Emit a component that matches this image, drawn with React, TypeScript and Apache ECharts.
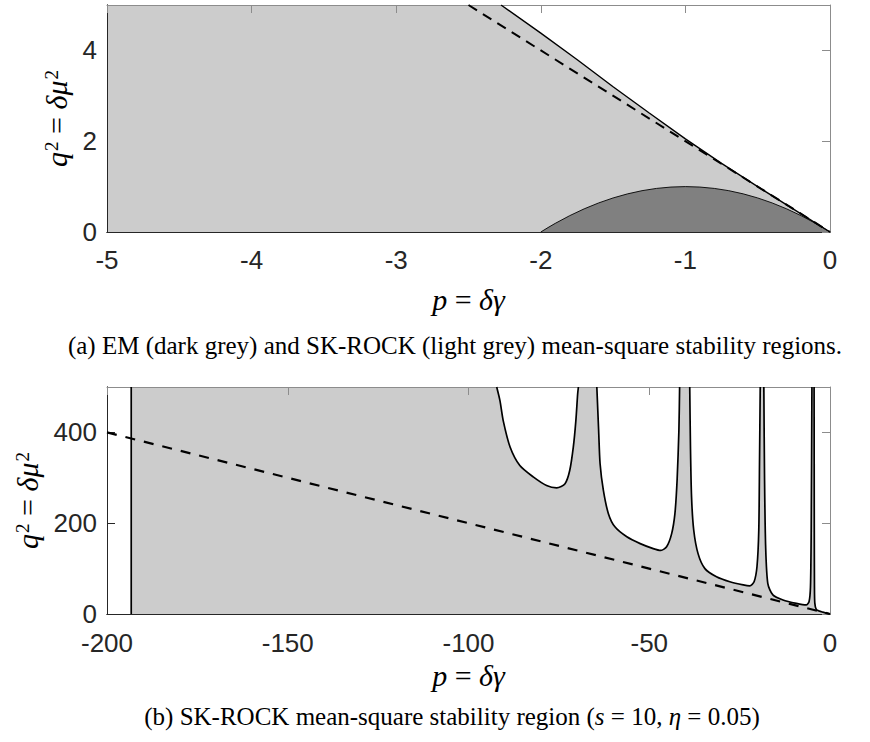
import React, { useEffect, useRef } from "react";
import * as echarts from "echarts";

// ---------- Top panel (a) ----------
const topXTicks = [-5, -4, -3, -2, -1, 0];
const topYTicks = [0, 2, 4];
const topYMax = 5;
// SK-ROCK boundary (solid)
const skP = [-2.275, -2, -1.75, -1.5, -1.25, -1, -0.75, -0.5, -0.25, 0];
const skQ = [5.0, 4.38, 3.8, 3.2, 2.62, 2.05, 1.51, 1.0, 0.5, 0];
// EM boundary (dark grey region)
const emP = [-2, -1.95, -1.9, -1.8, -1.7, -1.6, -1.5, -1.4, -1.3, -1.2, -1.1, -1, -0.9, -0.8, -0.7, -0.6, -0.5, -0.4, -0.3, -0.2, -0.1, -0.05, 0];
const emQ = [0, 0.0975, 0.19, 0.36, 0.51, 0.64, 0.75, 0.84, 0.91, 0.96, 0.99, 1, 0.99, 0.96, 0.91, 0.84, 0.75, 0.64, 0.51, 0.36, 0.19, 0.0975, 0];
// exact SDE boundary (dashed)
const dashTopP = [-2.5, 0];
const dashTopQ = [5, 0];

// ---------- Bottom panel (b) ----------
const botXTicks = [-200, -150, -100, -50, 0];
const botYTicks = [0, 200, 400];
const botYMax = 500;
const leftEdgeP = -193.3;
const f1P = [-92.2, -91.3, -90.4, -88.5, -85.8, -82.1, -78.4, -75.6, -73.3, -72.0, -71.0, -70.3, -69.8, -69.6];
const f1Q = [500, 470, 426, 368, 327, 302, 283, 278, 287, 316, 368, 426, 485, 500];
const f2P = [-64.5, -64.0, -63.6, -62.7, -61.3, -59.5, -56.2, -52.5, -48.9, -46.8, -45.2, -43.8, -42.9, -42.3, -41.8, -41.6];
const f2Q = [500, 404, 331, 273, 221, 192, 170, 155, 144, 140, 148, 177, 221, 294, 404, 500];
const f3P = [-38.8, -38.6, -38.3, -37.7, -36.5, -34.6, -31.4, -27.7, -24.0, -22.2, -21.0, -20.2, -19.7, -19.5, -19.3];
const f3Q = [500, 368, 258, 185, 133, 100, 82, 71, 64, 62, 71, 104, 185, 331, 500];
const f4P = [-18.3, -18.1, -17.8, -17.2, -15.8, -13.0, -9.3, -6.6, -5.8, -5.4, -5.2, -5.0];
const f4Q = [500, 294, 148, 67, 42, 31, 23.5, 20, 27, 60, 185, 500];
const f5P = [-4.4, -4.35, -4.3, -4.2, -3.8, -3, -2, -1, 0];
const f5Q = [500, 200, 60, 24, 10, 6.5, 4.1, 2.05, 0];
const dashBotP = [-200, 0];
const dashBotQ = [400, 0];

const zip = (p: number[], q: number[]) => p.map((v, i) => [v, q[i]]);

const TXT = "#262626";
const SERIF = "'Liberation Serif', 'DejaVu Serif', serif";
const SANS = "'Liberation Sans', Arial, sans-serif";

const nameRich = {
  it: { fontFamily: SERIF, fontStyle: "italic", fontSize: 30, color: "#000" },
  n: { fontFamily: SERIF, fontSize: 30, color: "#000" },
  sup: { fontFamily: SERIF, fontSize: 19, color: "#000", padding: [0, 0, 10, 1] },
};

function axesFor(
  gridIndex: number,
  xt: number[],
  yt: number[],
  yMax: number,
  xLabelMargin: number,
  xNameGap: number,
  yNameGap: number
) {
  const xMin = xt[0];
  const xMax = xt[xt.length - 1];
  const xInt = xt[1] - xt[0];
  const yMin = yt[0];
  const yInt = yt[1] - yt[0];
  const xAxes = [
    {
      type: "value",
      gridIndex,
      min: xMin,
      max: xMax,
      interval: xInt,
      position: "bottom",
      z: 0,
      axisLine: { show: true, onZero: false, lineStyle: { color: TXT, width: 1 } },
      axisTick: { show: true, inside: true, length: 8, lineStyle: { color: TXT } },
      axisLabel: { fontSize: 26, lineHeight: 20, fontFamily: SANS, color: TXT, margin: xLabelMargin },
      splitLine: { show: false },
      name: "{it|p}{n| = }{it|δγ}",
      nameLocation: "middle",
      nameGap: xNameGap,
      nameTextStyle: { rich: nameRich },
    },
    {
      type: "value",
      gridIndex,
      min: xMin,
      max: xMax,
      interval: xInt,
      position: "top",
      z: 3,
      axisLine: { show: true, onZero: false, lineStyle: { color: "#8c8c8c", width: 1 } },
      axisTick: { show: true, inside: true, length: 8, lineStyle: { color: "#8c8c8c" } },
      axisLabel: { show: false },
      splitLine: { show: false },
    },
    {
      type: "value",
      gridIndex,
      min: xMin,
      max: xMax,
      interval: xInt,
      position: "bottom",
      z: 3,
      axisLine: { show: true, onZero: false, lineStyle: { color: TXT, width: 1 } },
      axisTick: { show: false },
      axisLabel: { show: false },
      splitLine: { show: false },
    },
  ];
  const yAxes = [
    {
      type: "value",
      gridIndex,
      min: yMin,
      max: yMax,
      interval: yInt,
      position: "left",
      z: 0,
      axisLine: { show: true, onZero: false, lineStyle: { color: TXT, width: 1 } },
      axisTick: { show: true, inside: true, length: 8, lineStyle: { color: TXT } },
      axisLabel: { fontSize: 26, lineHeight: 20, fontFamily: SANS, color: TXT, margin: 10, showMaxLabel: false },
      splitLine: { show: false },
      name: "{it|q}{sup|2}{n| = }{it|δμ}{sup|2}",
      nameLocation: "middle",
      nameRotate: 90,
      nameGap: yNameGap,
      nameTextStyle: { rich: nameRich },
    },
    {
      type: "value",
      gridIndex,
      min: yMin,
      max: yMax,
      interval: yInt,
      position: "right",
      z: 3,
      axisLine: { show: true, onZero: false, lineStyle: { color: "#8c8c8c", width: 1 } },
      axisTick: { show: true, inside: true, length: 8, lineStyle: { color: "#8c8c8c" } },
      axisLabel: { show: false },
      splitLine: { show: false },
    },
    {
      type: "value",
      gridIndex,
      min: yMin,
      max: yMax,
      interval: yInt,
      position: "left",
      z: 3,
      axisLine: { show: true, onZero: false, lineStyle: { color: TXT, width: 1 } },
      axisTick: { show: false },
      axisLabel: { show: false },
      splitLine: { show: false },
    },
  ];
  return { xAxes, yAxes };
}

const base = { type: "line", symbol: "none", silent: true, animation: false };

export default function App() {
  const ref = useRef<HTMLDivElement>(null);
  useEffect(() => {
    if (!ref.current) return;
    const chart = echarts.init(ref.current, null, { renderer: "svg" });
    const a = axesFor(0, topXTicks, topYTicks, topYMax, 18, 52, 33);
    const b = axesFor(1, botXTicks, botYTicks, botYMax, 19, 46, 62);

    const skData = zip(skP, skQ);
    const topFill = [[topXTicks[0], topYMax], ...skData];
    const botFill = [[leftEdgeP, botYMax], [botXTicks[botXTicks.length - 1], botYMax]];
    const fingers = [zip(f1P, f1Q), zip(f2P, f2Q), zip(f3P, f3Q), zip(f4P, f4Q), zip(f5P, f5Q)];

    const option: any = {
      animation: false,
      grid: [
        { left: 107, top: 5, width: 723, height: 227 },
        { left: 107, top: 387, width: 723, height: 227 },
      ],
      xAxis: [...a.xAxes, ...b.xAxes],
      yAxis: [...a.yAxes, ...b.yAxes],
      graphic: [
        {
          type: "text",
          x: 455,
          y: 345,
          style: {
            text: "(a) EM (dark grey) and SK-ROCK (light grey) mean-square stability regions.",
            fontSize: 25,
            fontFamily: SERIF,
            fill: "#000",
            align: "center",
            verticalAlign: "middle",
          },
        },
        {
          type: "text",
          x: 452,
          y: 716,
          style: {
            text: "(b) SK-ROCK mean-square stability region ({i|s} = 10, {i|η} = 0.05)",
            fontSize: 25,
            fontFamily: SERIF,
            fill: "#000",
            align: "center",
            verticalAlign: "middle",
            rich: { i: { fontSize: 25, fontFamily: SERIF, fontStyle: "italic", fill: "#000" } },
          },
        },
      ],
      series: [
        // top panel
        {
          ...base,
          xAxisIndex: 0,
          yAxisIndex: 0,
          data: topFill,
          lineStyle: { width: 0, opacity: 0 },
          areaStyle: { color: "#cccccc", opacity: 1, origin: "start" },
        },
        {
          ...base,
          xAxisIndex: 0,
          yAxisIndex: 0,
          data: zip(emP, emQ),
          lineStyle: { width: 0.9, color: "#000" },
          areaStyle: { color: "#808080", opacity: 1, origin: "start" },
        },
        {
          ...base,
          xAxisIndex: 0,
          yAxisIndex: 0,
          data: zip(dashTopP, dashTopQ),
          lineStyle: { width: 2, color: "#000", type: [10, 7] },
        },
        {
          ...base,
          xAxisIndex: 0,
          yAxisIndex: 0,
          data: skData,
          lineStyle: { width: 1.4, color: "#000" },
        },
        // bottom panel
        {
          ...base,
          xAxisIndex: 3,
          yAxisIndex: 3,
          data: botFill,
          lineStyle: { width: 0, opacity: 0 },
          areaStyle: { color: "#cccccc", opacity: 1, origin: "start" },
        },
        ...fingers.map((d) => ({
          ...base,
          xAxisIndex: 3,
          yAxisIndex: 3,
          data: d,
          smooth: 0.25,
          lineStyle: { width: 1.7, color: "#000" },
          areaStyle: { color: "#ffffff", opacity: 1, origin: "end" },
        })),
        {
          ...base,
          xAxisIndex: 3,
          yAxisIndex: 3,
          data: [[leftEdgeP, botYTicks[0]], [leftEdgeP, botYMax]],
          lineStyle: { width: 1.7, color: "#000" },
        },
        {
          ...base,
          xAxisIndex: 3,
          yAxisIndex: 3,
          data: zip(dashBotP, dashBotQ),
          lineStyle: { width: 2.2, color: "#000", type: [10, 9] },
        },
      ],
    };
    chart.setOption(option);
    return () => chart.dispose();
  }, []);
  return (
    <div
      ref={ref}
      style={{ position: "fixed", left: 0, top: 0, width: 870, height: 742, background: "#fff" }}
    />
  );
}
